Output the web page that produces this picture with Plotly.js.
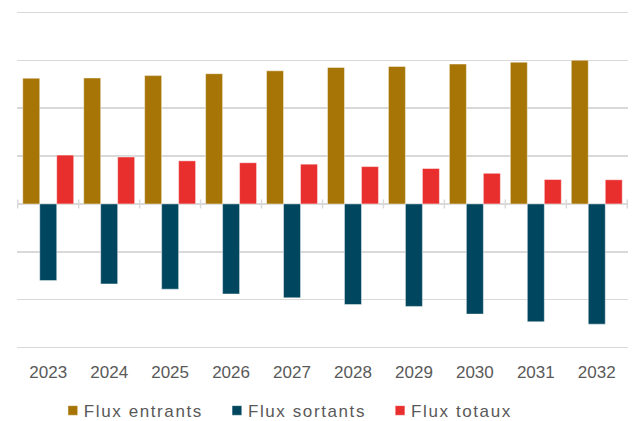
<!DOCTYPE html>
<html>
<head>
<meta charset="utf-8">
<script src="https://cdn.plot.ly/plotly-3.0.1.min.js"></script>
<style>
html,body{margin:0;padding:0;background:#fff;overflow:hidden;}
#chart{width:632px;height:421px;}
.legendtext{letter-spacing:1.6px;}
.legend .legendsymbols{transform:translate(13px,0px) scale(0.8);}
</style>
</head>
<body>
<div id="chart"></div>
<script>
const years = ["2023","2024","2025","2026","2027","2028","2029","2030","2031","2032"];
const fluxEntrants = [2.625, 2.63, 2.68, 2.72, 2.78, 2.85, 2.87, 2.92, 2.96, 3.0];
const fluxSortants = [-1.60, -1.67, -1.78, -1.88, -1.96, -2.10, -2.14, -2.30, -2.46, -2.51];
const fluxTotaux = [1.02, 0.98, 0.90, 0.86, 0.83, 0.78, 0.74, 0.64, 0.51, 0.505];
const seriesNames = ["Flux entrants", "Flux sortants", "Flux totaux"];
const colors = ["#A67505", "#01465F", "#E92E2E"];

const traces = [fluxEntrants, fluxSortants, fluxTotaux].map((v, i) => ({
  type: 'bar', x: years, y: v, name: seriesNames[i],
  marker: {color: colors[i], line: {color: 'rgba(255,255,255,0.55)', width: 0.8}},
  hoverinfo: 'none'
}));

const shapes = [];
for (let i = 0; i <= years.length; i++) {
  shapes.push({type: 'line', xref: 'x', yref: 'y', x0: i - 0.5, x1: i - 0.5,
    ysizemode: 'pixel', yanchor: 0, y0: -4.5, y1: 4.5,
    line: {color: '#d9d9d9', width: 1.5}});
}

const layout = {
  width: 632, height: 421,
  margin: {l: 17, r: 4, t: 10, b: 71},
  paper_bgcolor: '#fff', plot_bgcolor: '#fff',
  barmode: 'group', bargap: 0.164, bargroupgap: 0,
  font: {family: 'Liberation Sans, Arial, sans-serif', color: '#595959', size: 17},
  xaxis: {type: 'category', showgrid: false, zeroline: false, showline: false,
    ticks: '', ticklabelstandoff: 10,
    tickfont: {family: 'Liberation Sans, Arial, sans-serif', size: 17, color: '#595959'},
    fixedrange: true, automargin: false},
  yaxis: {range: [-3.05, 4.05], dtick: 1, tick0: 0, showticklabels: false, ticks: '',
    showgrid: true, gridcolor: '#d9d9d9', gridwidth: 1.5,
    zeroline: true, zerolinecolor: '#d9d9d9', zerolinewidth: 1.5, showline: false,
    fixedrange: true, automargin: false},
  legend: {orientation: 'h', xref: 'paper', x: 0.431, xanchor: 'center',
    yref: 'container', y: 0.024, yanchor: 'middle',
    font: {family: 'Liberation Sans, Arial, sans-serif', size: 17, color: '#595959'},
    itemclick: false, traceorder: 'normal'},
  shapes: shapes,
  showlegend: true
};

Plotly.newPlot('chart', traces, layout, {displayModeBar: false, staticPlot: true});
</script>
</body>
</html>
